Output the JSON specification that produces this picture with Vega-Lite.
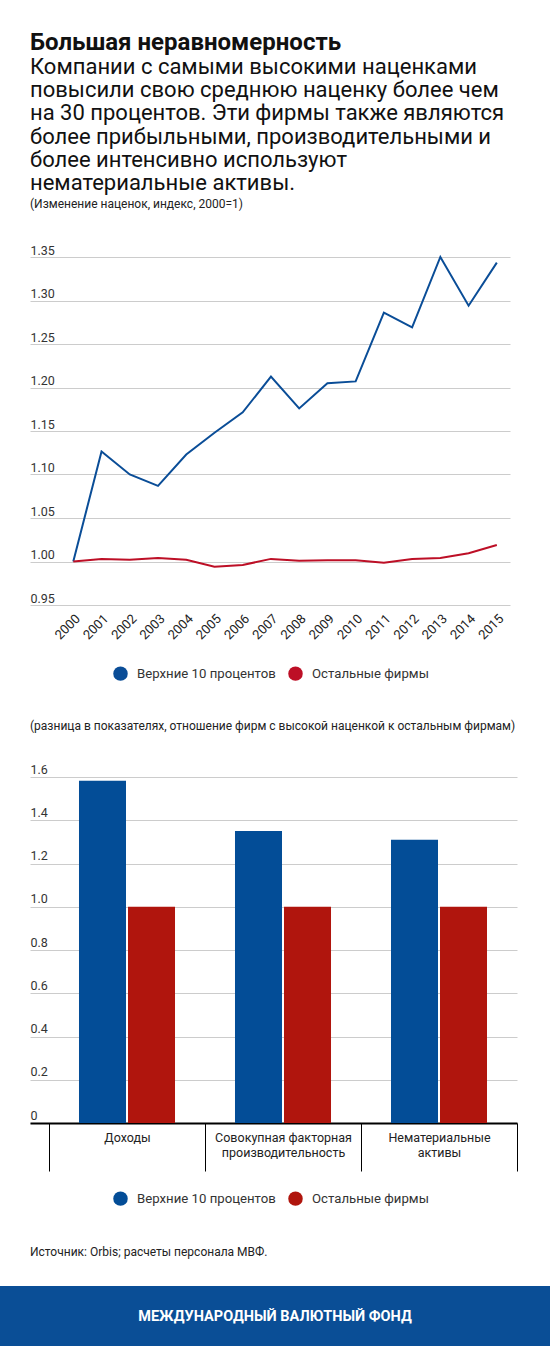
{
  "$schema": "https://vega.github.io/schema/vega-lite/v6.json",
  "padding": {"left": 0, "top": 31, "right": 0, "bottom": 0},
  "background": "white",
  "config": {
    "font": "Roboto",
    "view": {"stroke": null},
    "axis": {"labelFont": "Roboto", "titleFont": "Roboto"},
    "legend": {"labelFont": "Roboto"}
  },
  "title": {
    "text": "Большая неравномерность",
    "subtitle": [
      "Компании с самыми высокими наценками",
      "повысили свою среднюю наценку более чем",
      "на 30 процентов. Эти фирмы также являются",
      "более прибыльными, производительными и",
      "более интенсивно используют",
      "нематериальные активы."
    ],
    "anchor": "start",
    "frame": "group",
    "fontSize": 24,
    "fontWeight": "bold",
    "color": "#111",
    "subtitleFontSize": 22,
    "subtitleColor": "#111",
    "subtitleLineHeight": 23.2,
    "subtitlePadding": 2,
    "offset": 4
  },
  "spacing": 9,
  "resolve": {"scale": {"color": "independent"}, "legend": {"color": "independent"}},
  "vconcat": [
    {
      "title": {"text": "(Изменение наценок, индекс, 2000=1)", "anchor": "start", "frame": "group", "fontSize": 12, "fontWeight": "normal", "color": "#222", "offset": 33},
      "width": 480,
      "height": 348,
      "data": {"values": [
        {"year": "2000", "series": "Верхние 10 процентов", "value": 1.000},
        {"year": "2001", "series": "Верхние 10 процентов", "value": 1.1265},
        {"year": "2002", "series": "Верхние 10 процентов", "value": 1.100},
        {"year": "2003", "series": "Верхние 10 процентов", "value": 1.087},
        {"year": "2004", "series": "Верхние 10 процентов", "value": 1.123},
        {"year": "2005", "series": "Верхние 10 процентов", "value": 1.148},
        {"year": "2006", "series": "Верхние 10 процентов", "value": 1.1715},
        {"year": "2007", "series": "Верхние 10 процентов", "value": 1.2125},
        {"year": "2008", "series": "Верхние 10 процентов", "value": 1.176},
        {"year": "2009", "series": "Верхние 10 процентов", "value": 1.205},
        {"year": "2010", "series": "Верхние 10 процентов", "value": 1.207},
        {"year": "2011", "series": "Верхние 10 процентов", "value": 1.286},
        {"year": "2012", "series": "Верхние 10 процентов", "value": 1.269},
        {"year": "2013", "series": "Верхние 10 процентов", "value": 1.350},
        {"year": "2014", "series": "Верхние 10 процентов", "value": 1.294},
        {"year": "2015", "series": "Верхние 10 процентов", "value": 1.3435},
        {"year": "2000", "series": "Остальные фирмы", "value": 1.000},
        {"year": "2001", "series": "Остальные фирмы", "value": 1.003},
        {"year": "2002", "series": "Остальные фирмы", "value": 1.002},
        {"year": "2003", "series": "Остальные фирмы", "value": 1.004},
        {"year": "2004", "series": "Остальные фирмы", "value": 1.002},
        {"year": "2005", "series": "Остальные фирмы", "value": 0.994},
        {"year": "2006", "series": "Остальные фирмы", "value": 0.996},
        {"year": "2007", "series": "Остальные фирмы", "value": 1.003},
        {"year": "2008", "series": "Остальные фирмы", "value": 1.001},
        {"year": "2009", "series": "Остальные фирмы", "value": 1.0015},
        {"year": "2010", "series": "Остальные фирмы", "value": 1.0015},
        {"year": "2011", "series": "Остальные фирмы", "value": 0.9985},
        {"year": "2012", "series": "Остальные фирмы", "value": 1.003},
        {"year": "2013", "series": "Остальные фирмы", "value": 1.004},
        {"year": "2014", "series": "Остальные фирмы", "value": 1.0095},
        {"year": "2015", "series": "Остальные фирмы", "value": 1.019}
      ]},
      "mark": {"type": "line", "strokeWidth": 2, "clip": false},
      "encoding": {
        "x": {
          "field": "year", "type": "ordinal",
          "scale": {"type": "point", "padding": 1.0714, "align": 0.7667},
          "axis": {"title": null, "labelAngle": -45, "labelFontSize": 13, "labelColor": "#222", "ticks": false, "tickSize": 0, "domain": false, "labelPadding": 7}
        },
        "y": {
          "field": "value", "type": "quantitative",
          "scale": {"domain": [0.95, 1.35], "zero": false, "nice": false},
          "axis": {"title": null, "values": [0.95, 1.0, 1.05, 1.1, 1.15, 1.2, 1.25, 1.3, 1.35], "format": ".2f", "grid": true, "gridColor": "#cccccc", "domain": false, "ticks": false, "tickSize": 0, "labelAlign": "left", "labelBaseline": "alphabetic", "labelPadding": 0, "labelOffset": -3, "labelFontSize": 12.5, "labelColor": "#333"}
        },
        "color": {
          "field": "series", "type": "nominal",
          "scale": {"domain": ["Верхние 10 процентов", "Остальные фирмы"], "range": ["#0a4d97", "#bd0f26"]},
          "legend": {"orient": "none", "legendX": 83, "legendY": 409, "direction": "horizontal", "title": null, "symbolType": "circle", "symbolSize": 210, "labelFontSize": 13.2, "labelColor": "#333", "columnPadding": 12, "labelOffset": 9,
            "encode": {"symbols": {"update": {"fill": {"signal": "datum.value == 'Верхние 10 процентов' ? '#0a4d97' : '#bd0f26'"}, "strokeWidth": {"value": 0}, "opacity": {"value": 1}}}}}
        }
      }
    },
    {
      "title": {"text": ["", "(разница в показателях, отношение фирм с высокой наценкой к остальным фирмам)"], "lineHeight": 30, "anchor": "start", "frame": "group", "fontSize": 12, "fontWeight": "normal", "color": "#222", "offset": 30},
      "width": 487,
      "height": 346,
      "data": {"values": [
        {"cat": "Доходы", "group": "Верхние 10 процентов", "value": 1.583},
        {"cat": "Доходы", "group": "Остальные фирмы", "value": 1.0},
        {"cat": "Совокупная факторная производительность", "group": "Верхние 10 процентов", "value": 1.35},
        {"cat": "Совокупная факторная производительность", "group": "Остальные фирмы", "value": 1.0},
        {"cat": "Нематериальные активы", "group": "Верхние 10 процентов", "value": 1.31},
        {"cat": "Нематериальные активы", "group": "Остальные фирмы", "value": 1.0}
      ]},
      "mark": {"type": "bar"},
      "encoding": {
        "x": {
          "field": "cat", "type": "nominal",
          "sort": ["Доходы", "Совокупная факторная производительность", "Нематериальные активы"],
          "scale": {"type": "band", "paddingInner": 0, "paddingOuter": 0.0609, "align": 1},
          "axis": {"title": null, "labelAngle": 0, "domain": true, "domainColor": "#000", "domainWidth": 2, "ticks": true, "tickColor": "#000", "tickWidth": 1, "tickSize": 48, "tickBand": "extent", "labelFontSize": 12.5, "labelColor": "#222", "labelBaseline": "top", "labelPadding": -40, "labelLineHeight": 15,
            "labelExpr": "datum.label == 'Совокупная факторная производительность' ? ['Совокупная факторная', 'производительность'] : datum.label == 'Нематериальные активы' ? ['Нематериальные', 'активы'] : datum.label"}
        },
        "xOffset": {
          "field": "group", "type": "nominal",
          "sort": ["Верхние 10 процентов", "Остальные фирмы"],
          "scale": {"paddingInner": 0.0408, "paddingOuter": 0.612}
        },
        "y": {
          "field": "value", "type": "quantitative",
          "scale": {"domain": [0, 1.6], "nice": false},
          "axis": {"title": null, "values": [0, 0.2, 0.4, 0.6, 0.8, 1.0, 1.2, 1.4, 1.6], "labelExpr": "datum.value == 0 ? '0' : format(datum.value, '.1f')", "grid": true, "gridColor": "#cccccc", "domain": false, "ticks": false, "tickSize": 0, "labelAlign": "left", "labelBaseline": "alphabetic", "labelPadding": 0, "labelOffset": -4, "labelFontSize": 12.5, "labelColor": "#333"}
        },
        "color": {
          "field": "group", "type": "nominal",
          "scale": {"domain": ["Верхние 10 процентов", "Остальные фирмы"], "range": ["#034d97", "#b0150d"]},
          "legend": {"orient": "none", "legendX": 83, "legendY": 414, "direction": "horizontal", "title": null, "symbolType": "circle", "symbolSize": 210, "labelFontSize": 13.2, "labelColor": "#333", "columnPadding": 12, "labelOffset": 9,
            "encode": {"symbols": {"update": {"strokeWidth": {"value": 0}, "opacity": {"value": 1}}}}}
        }
      }
    },
    {
      "title": {"text": "Источник: Orbis; расчеты персонала МВФ.", "anchor": "start", "frame": "group", "fontSize": 12, "fontWeight": "normal", "color": "#222", "offset": 50},
      "width": 490,
      "height": 1,
      "view": {"fill": "#0a4e96", "stroke": "#0a4e96", "strokeWidth": 60},
      "data": {"values": [{"label": "МЕЖДУНАРОДНЫЙ ВАЛЮТНЫЙ ФОНД"}]},
      "mark": {"type": "text", "color": "white", "fontWeight": "bold", "fontSize": 14.5, "baseline": "middle", "align": "center"},
      "encoding": {"text": {"field": "label"}}
    }
  ]
}
